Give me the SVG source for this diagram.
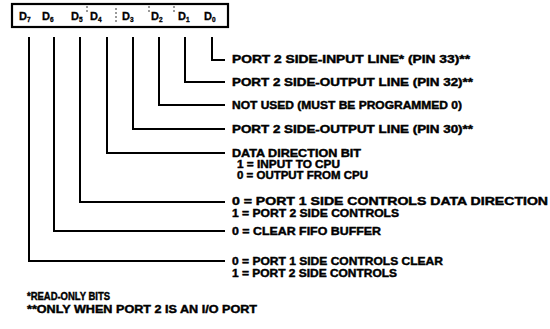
<svg xmlns="http://www.w3.org/2000/svg" width="550" height="329" viewBox="0 0 550 329">
<style>
.t{font-family:"Liberation Sans",Arial,sans-serif;font-weight:bold;font-size:10px;fill:#000;stroke:#000;stroke-width:0.4}
.d{font-family:"Liberation Sans",Arial,sans-serif;font-weight:bold;font-size:11px;fill:#000;stroke:#000;stroke-width:0.3}
.s{font-size:6.5px}
.c{fill:none;stroke:#000;stroke-width:2}
.sep{stroke:#000;stroke-width:0.8;stroke-dasharray:2 2}
</style>
<rect width="550" height="329" fill="#fff"/>
<g id="register">
<rect x="12" y="4" width="216" height="23" fill="#fff" stroke="#000" stroke-width="2.2"/>
<line class="sep" x1="87" y1="6" x2="87" y2="12"/>
<line class="sep" x1="116" y1="8" x2="116" y2="24"/>
<line class="sep" x1="149" y1="6" x2="149" y2="12"/>
<line class="sep" x1="174" y1="6" x2="174" y2="12"/>
<text class="d" x="19" y="20">D<tspan class="s" dy="2">7</tspan></text>
<text class="d" x="42" y="20">D<tspan class="s" dy="2">6</tspan></text>
<text class="d" x="71" y="20">D<tspan class="s" dy="2">5</tspan></text>
<text class="d" x="90" y="20">D<tspan class="s" dy="2">4</tspan></text>
<text class="d" x="122" y="20">D<tspan class="s" dy="2">3</tspan></text>
<text class="d" x="151" y="20">D<tspan class="s" dy="2">2</tspan></text>
<text class="d" x="178" y="20">D<tspan class="s" dy="2">1</tspan></text>
<text class="d" x="204" y="20">D<tspan class="s" dy="2">0</tspan></text>
</g>
<g id="connectors">
<polyline class="c" points="212,37 212,60 225,60"/>
<polyline class="c" points="185,37 185,82 225,82"/>
<polyline class="c" points="159,37 159,105 225,105"/>
<polyline class="c" points="133,37 133,129 225,129"/>
<polyline class="c" points="107,37 107,153 225,153"/>
<polyline class="c" points="80,37 80,202 225,202"/>
<polyline class="c" points="54,37 54,231 225,231"/>
<polyline class="c" points="29,37 29,261 225,261"/>
</g>
<g id="bit0"><text class="t" x="232" y="62.5" textLength="238" lengthAdjust="spacingAndGlyphs">PORT 2 SIDE-INPUT LINE* (PIN 33)**</text></g>
<g id="bit1"><text class="t" x="232" y="85.5" textLength="241" lengthAdjust="spacingAndGlyphs">PORT 2 SIDE-OUTPUT LINE (PIN 32)**</text></g>
<g id="bit2"><text class="t" x="232" y="108.5" textLength="230" lengthAdjust="spacingAndGlyphs">NOT USED (MUST BE PROGRAMMED 0)</text></g>
<g id="bit3"><text class="t" x="232" y="132.5" textLength="241" lengthAdjust="spacingAndGlyphs">PORT 2 SIDE-OUTPUT LINE (PIN 30)**</text></g>
<g id="bit4">
<text class="t" x="232" y="156.5" textLength="129" lengthAdjust="spacingAndGlyphs">DATA DIRECTION BIT</text>
<text class="t" x="237" y="167.5" textLength="103" lengthAdjust="spacingAndGlyphs">1 = INPUT TO CPU</text>
<text class="t" x="237" y="178.5" textLength="131" lengthAdjust="spacingAndGlyphs">0 = OUTPUT FROM CPU</text>
</g>
<g id="bit5">
<text class="t" x="232" y="204.5" textLength="316" lengthAdjust="spacingAndGlyphs">0 = PORT 1 SIDE CONTROLS DATA DIRECTION</text>
<text class="t" x="232" y="216.5" textLength="167" lengthAdjust="spacingAndGlyphs">1 = PORT 2 SIDE CONTROLS</text>
</g>
<g id="bit6"><text class="t" x="232" y="234.5" textLength="149" lengthAdjust="spacingAndGlyphs">0 = CLEAR FIFO BUFFER</text></g>
<g id="bit7">
<text class="t" x="232" y="264.5" textLength="211" lengthAdjust="spacingAndGlyphs">0 = PORT 1 SIDE CONTROLS CLEAR</text>
<text class="t" x="232" y="276.5" textLength="165" lengthAdjust="spacingAndGlyphs">1 = PORT 2 SIDE CONTROLS</text>
</g>
<g id="notes">
<text class="t" x="27" y="299.5" textLength="83" lengthAdjust="spacingAndGlyphs">*READ-ONLY BITS</text>
<text class="t" x="27" y="312.5" textLength="230" lengthAdjust="spacingAndGlyphs">**ONLY WHEN PORT 2 IS AN I/O PORT</text>
</g>
</svg>
